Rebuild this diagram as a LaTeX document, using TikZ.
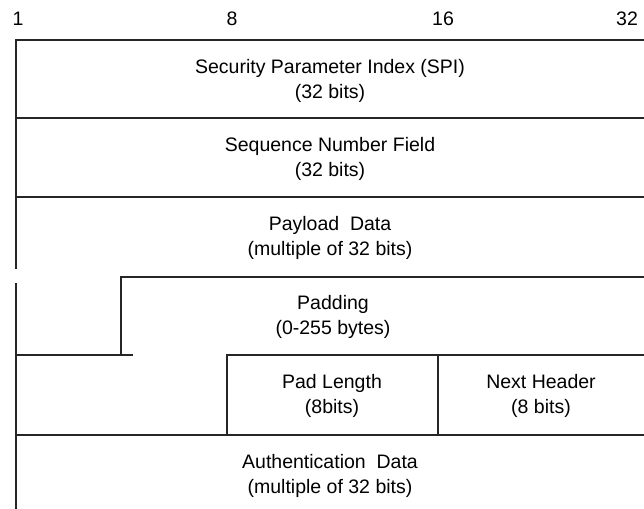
\documentclass[tikz,border=0pt]{standalone}
\usepackage{fontspec}
\setmainfont{Liberation Sans}
\begin{document}
\begin{tikzpicture}[x=1pt,y=-1pt,
  rule/.style={line width=1.3pt, draw=black!85, line cap=rect},
  field/.style={align=center, font=\fontsize{19.5}{25}\selectfont, inner sep=0pt},
  bitnum/.style={font=\fontsize{19.5}{22}\selectfont, inner sep=0pt}]
\useasboundingbox (0,0) rectangle (644,508);

% bit positions across the top
\node[bitnum] (b1)  at (18,19)  {1};
\node[bitnum] (b8)  at (232,19) {8};
\node[bitnum] (b16) at (443,19) {16};
\node[bitnum] (b32) at (627,19) {32};

% horizontal field boundaries
\draw[rule] (16,40)  -- (644,40);
\draw[rule] (16,118) -- (644,118);
\draw[rule] (16,197) -- (644,197);
\draw[rule] (121,277) -- (644,277);
\draw[rule] (16,355) -- (132,355);
\draw[rule] (227,355) -- (644,355);
\draw[rule] (16,435) -- (644,435);

% vertical boundaries
\draw[rule] (16,40) -- (16,268);
\draw[rule] (16,284) -- (16,508);
\draw[rule] (121,277) -- (121,355);
\draw[rule] (227,355) -- (227,435);
\draw[rule] (438,355) -- (438,435);

% field labels
\node[field] (spi)  at (330,81)  {Security Parameter Index (SPI)\\(32 bits)};
\node[field] (seq)  at (330,159) {Sequence Number Field\\(32 bits)};
\node[field] (pay)  at (330,238) {Payload~ Data\\(multiple of 32 bits)};
\node[field] (pad)  at (333,317) {Padding\\(0-255 bytes)};
\node[field] (plen) at (332,396) {Pad Length\\(8bits)};
\node[field] (nh)   at (541,396) {Next Header\\(8 bits)};
\node[field] (auth) at (330,476) {Authentication~ Data\\(multiple of 32 bits)};
\end{tikzpicture}
\end{document}
